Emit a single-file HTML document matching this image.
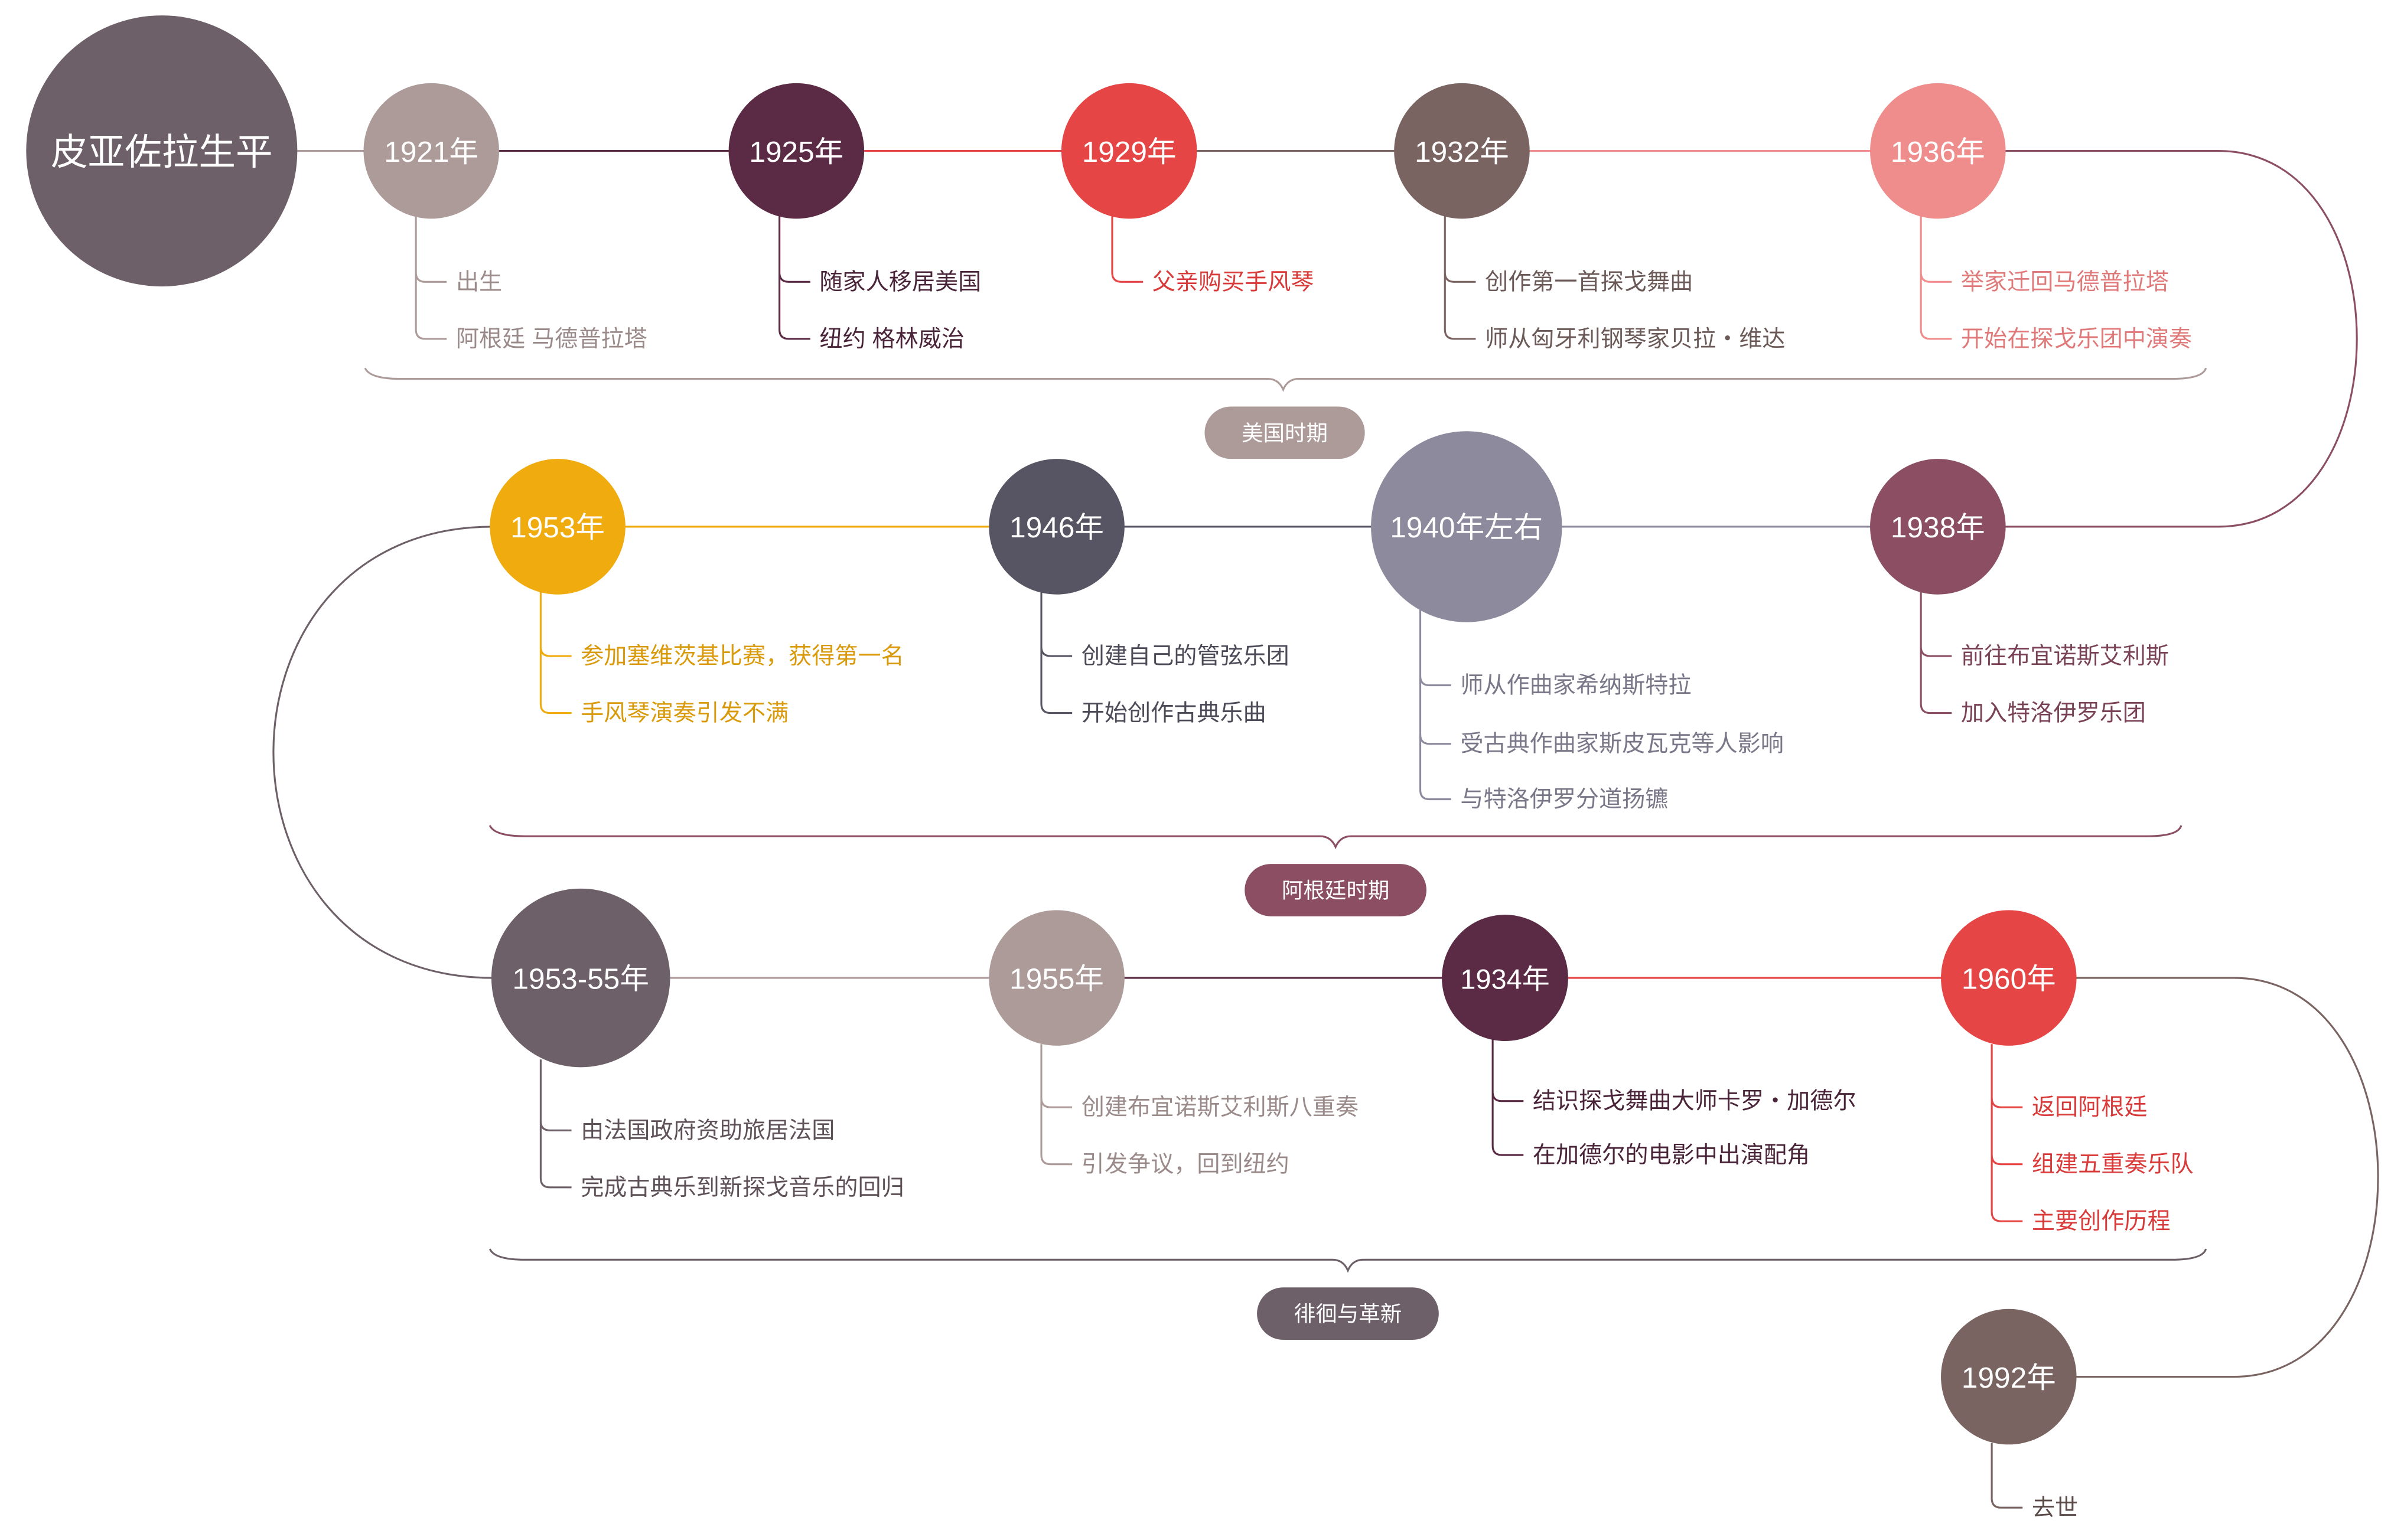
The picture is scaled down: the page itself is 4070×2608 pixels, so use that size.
<!DOCTYPE html>
<html><head><meta charset="utf-8"><style>
html,body{margin:0;padding:0;background:#fff;}
svg{display:block;}
text{font-family:"Liberation Sans","Noto Sans CJK SC",sans-serif;}
</style></head><body>
<svg width="4070" height="2608" viewBox="0 0 1560.6 1000" preserveAspectRatio="none" xmlns="http://www.w3.org/2000/svg">
<g fill="none" stroke-width="1.2">
<line x1="190" y1="98" x2="240" y2="98" stroke="#ad9b9a"/>
<line x1="320" y1="98" x2="480" y2="98" stroke="#5b2b45"/>
<line x1="556" y1="98" x2="695" y2="98" stroke="#e64545"/>
<line x1="772" y1="98" x2="910" y2="98" stroke="#7a6462"/>
<line x1="988" y1="98" x2="1220" y2="98" stroke="#ef8c8c"/>
<path d="M1300 98 H1440 C1560 98 1560 342 1440 342 H1300" stroke="#8b4e63"/>
<line x1="1014" y1="342" x2="1216" y2="342" stroke="#8c8a9c"/>
<line x1="728" y1="342" x2="892" y2="342" stroke="#575563"/>
<line x1="404" y1="342" x2="644" y2="342" stroke="#f0ab0f"/>
<path d="M320 342 C130 342 130 635 320 635" stroke="#6e6068"/>
<line x1="434" y1="635" x2="644" y2="635" stroke="#ad9b9a"/>
<line x1="728" y1="635" x2="938" y2="635" stroke="#5b2b45"/>
<line x1="1016" y1="635" x2="1262" y2="635" stroke="#e64545"/>
<path d="M1346 635 H1450 C1575 635 1575 894 1450 894 H1346" stroke="#7a6462"/>
</g>
<g fill="none" stroke-width="1.2">
<path d="M237 239 Q240 246 260 246 H823 Q830 246 833 253 Q836 246 843 246 H1410 Q1430 246 1432 239" stroke="#ad9b9a"/>
<path d="M318 536 Q321 543 341 543 H857 Q864 543 867 550 Q870 543 877 543 H1394 Q1414 543 1416 536" stroke="#8b4e63"/>
<path d="M318 811 Q321 818 341 818 H865 Q872 818 875 825 Q878 818 885 818 H1410 Q1430 818 1432 811" stroke="#6e6068"/>
</g>
<g font-size="14" fill="#fff" text-anchor="middle">
<rect x="782" y="264" width="104" height="34" rx="17" fill="#ad9b9a"/>
<text x="834" y="286" fill="#fff">美国时期</text>
<rect x="808" y="561" width="118" height="34" rx="17" fill="#8b4e63"/>
<text x="867" y="583" fill="#fff">阿根廷时期</text>
<rect x="816" y="836" width="118" height="34" rx="17" fill="#6e6068"/>
<text x="875" y="858" fill="#fff">徘徊与革新</text>
</g>
<g text-anchor="middle" fill="#fff">
<circle cx="105" cy="98" r="88" fill="#6e6068"/><text x="105" y="107" font-size="24" fill="#fff">皮亚佐拉生平</text>
<circle cx="280" cy="98" r="44" fill="#ad9b9a"/><text x="280" y="105" font-size="19" fill="#fff">1921年</text>
<circle cx="517" cy="98" r="44" fill="#5b2b45"/><text x="517" y="105" font-size="19" fill="#fff">1925年</text>
<circle cx="733" cy="98" r="44" fill="#e64545"/><text x="733" y="105" font-size="19" fill="#fff">1929年</text>
<circle cx="949" cy="98" r="44" fill="#7a6462"/><text x="949" y="105" font-size="19" fill="#fff">1932年</text>
<circle cx="1258" cy="98" r="44" fill="#ef8c8c"/><text x="1258" y="105" font-size="19" fill="#fff">1936年</text>
<circle cx="1258" cy="342" r="44" fill="#8b4e63"/><text x="1258" y="349" font-size="19" fill="#fff">1938年</text>
<circle cx="952" cy="342" r="62" fill="#8c8a9c"/><text x="952" y="349" font-size="19" fill="#fff">1940年左右</text>
<circle cx="686" cy="342" r="44" fill="#575563"/><text x="686" y="349" font-size="19" fill="#fff">1946年</text>
<circle cx="362" cy="342" r="44" fill="#f0ab0f"/><text x="362" y="349" font-size="19" fill="#fff">1953年</text>
<circle cx="377" cy="635" r="58" fill="#6e6068"/><text x="377" y="642" font-size="19" fill="#fff">1953-55年</text>
<circle cx="686" cy="635" r="44" fill="#ad9b9a"/><text x="686" y="642" font-size="19" fill="#fff">1955年</text>
<circle cx="977" cy="635" r="41" fill="#5b2b45"/><text x="977" y="642" font-size="18" fill="#fff">1934年</text>
<circle cx="1304" cy="635" r="44" fill="#e64545"/><text x="1304" y="642" font-size="19" fill="#fff">1960年</text>
<circle cx="1304" cy="894" r="44" fill="#7a6462"/><text x="1304" y="901" font-size="19" fill="#fff">1992年</text>
</g>
<g id="branches"></g>
<script>
const branches = [
 [270,140,"#ad9b9a","#9a8b8a",[[183,"出生"],[220,"阿根廷 马德普拉塔"]]],
 [506,140,"#5b2b45","#4a2438",[[183,"随家人移居美国"],[220,"纽约 格林威治"]]],
 [722,140,"#e64545","#d93a3a",[[183,"父亲购买手风琴"]]],
 [938,140,"#7a6462","#6b5a58",[[183,"创作第一首探戈舞曲"],[220,"师从匈牙利钢琴家贝拉・维达"]]],
 [1247,140,"#ef8c8c","#e07a7a",[[183,"举家迁回马德普拉塔"],[220,"开始在探戈乐团中演奏"]]],
 [351,384,"#f0ab0f","#d99a0c",[[426,"参加塞维茨基比赛，获得第一名"],[463,"手风琴演奏引发不满"]]],
 [676,384,"#575563","#4d4b58",[[426,"创建自己的管弦乐团"],[463,"开始创作古典乐曲"]]],
 [922,396,"#8c8a9c","#7a7888",[[445,"师从作曲家希纳斯特拉"],[483,"受古典作曲家斯皮瓦克等人影响"],[519,"与特洛伊罗分道扬镳"]]],
 [1247,384,"#8b4e63","#7a4256",[[426,"前往布宜诺斯艾利斯"],[463,"加入特洛伊罗乐团"]]],
 [351,688,"#6e6068","#5e5158",[[734,"由法国政府资助旅居法国"],[771,"完成古典乐到新探戈音乐的回归"]]],
 [676,678,"#ad9b9a","#9a8b8a",[[719,"创建布宜诺斯艾利斯八重奏"],[756,"引发争议，回到纽约"]]],
 [969,674,"#5b2b45","#4a2438",[[715,"结识探戈舞曲大师卡罗・加德尔"],[750,"在加德尔的电影中出演配角"]]],
 [1293,678,"#e64545","#d93a3a",[[719,"返回阿根廷"],[756,"组建五重奏乐队"],[793,"主要创作历程"]]],
 [1293,937,"#7a6462","#5a4a48",[[979,"去世"]]]
];
const g=document.getElementById('branches');
const NS="http://www.w3.org/2000/svg";
branches.forEach(b=>{
 const [x,y0,c,tc,items]=b;
 const last=items[items.length-1][0];
 let d="M"+x+" "+y0+" V"+(last-6);
 items.forEach(it=>{ d+=" M"+x+" "+(it[0]-6)+" Q"+x+" "+it[0]+" "+(x+6)+" "+it[0]+" H"+(x+20); });
 const p=document.createElementNS(NS,'path');
 
 
 p.setAttribute('d',d);p.setAttribute('fill','none');p.setAttribute('stroke',c);p.setAttribute('stroke-width','1.2');
 g.appendChild(p);
 items.forEach(it=>{
  const t=document.createElementNS(NS,'text');
  
  
  t.setAttribute('x',x+26);t.setAttribute('y',it[0]+5);t.setAttribute('font-size','15');t.setAttribute('fill',tc);
  t.textContent=it[1];g.appendChild(t);
 });
});
</script>
</svg>
</body></html>
